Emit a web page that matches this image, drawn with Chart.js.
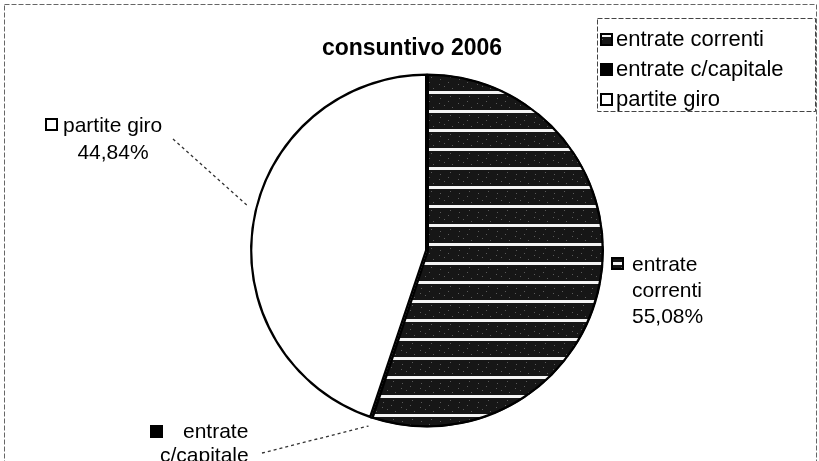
<!DOCTYPE html>
<html>
<head>
<meta charset="utf-8">
<script src="https://cdn.jsdelivr.net/npm/chart.js@4/dist/chart.umd.min.js"></script>
<style>
  html, body { margin: 0; padding: 0; background: #fff; }
  .chart-box { position: relative; width: 819px; height: 461px; }
</style>
</head>
<body>
<div class="chart-box">
  <canvas id="pie-chart" width="819" height="461"></canvas>
</div>
<script>
// Data - consuntivo 2006
const chartTitle = 'consuntivo 2006'
const categories = ['entrate correnti', 'entrate c/capitale', 'partite giro']
const percentages = [55.08, 0.08, 44.84]

const fontFamily = '"Liberation Sans", Arial, sans-serif'

// Striped fill for "entrate correnti"
const makeStripes = () => {
  const tile = document.createElement('canvas')
  tile.width = 19
  tile.height = 19
  const c = tile.getContext('2d')
  c.fillStyle = '#161616'
  c.fillRect(0, 0, 19, 19)
  c.fillStyle = '#f4f4f4'
  c.fillRect(0, 15, 19, 3)
  c.fillStyle = '#5a5a5a'
  ;[[3, 3], [11, 6], [7, 10], [15, 12], [2, 8], [13, 1]].forEach(([x, y]) => c.fillRect(x, y, 1, 1))
  return c.createPattern(tile, 'repeat')
}
const stripes = makeStripes()
const fills = [stripes, '#000000', '#ffffff']

const fmtPercent = (v) => v.toFixed(2).replace('.', ',') + '%'

// Labels around the pie (layout only)
const labelLayout = [
  { lines: ['entrate', 'correnti'], sym: [611, 257], text: [[632, 265], [632, 291], [632, 317]], align: 'left' },
  { lines: ['entrate', 'c/capitale'], sym: [150, 425], text: [[183, 432], [160, 456], [183, 480]], align: 'left', from: [262, 453] },
  { lines: ['partite giro'], sym: [45, 118], text: [[63, 126], [113, 153]], align: ['left', 'center'], from: [173, 139], edge: 284 }
]

const drawSymbol = (ctx, x, y, fill) => {
  ctx.fillStyle = fill
  ctx.fillRect(x, y, 13, 13)
  ctx.lineWidth = 2
  ctx.strokeStyle = '#000'
  ctx.strokeRect(x + 1, y + 1, 11, 11)
}

const decorations = {
  id: 'decorations',
  afterDraw: (chart) => {
    const ctx = chart.ctx
    const meta = chart.getDatasetMeta(0)
    ctx.save()

    // outer frame
    ctx.setLineDash([5, 2])
    ctx.strokeStyle = '#666'
    ctx.lineWidth = 1
    ctx.strokeRect(4.5, 4.5, 812, 500)

    // legend box
    ctx.strokeStyle = '#444'
    ctx.strokeRect(597.5, 18.5, 218, 93)
    ctx.setLineDash([])

    // title
    ctx.fillStyle = '#000'
    ctx.font = `bold 23px ${fontFamily}`
    ctx.textAlign = 'center'
    ctx.textBaseline = 'middle'
    ctx.fillText(chartTitle, 412, 49)

    // legend items
    ctx.font = `22px ${fontFamily}`
    ctx.textAlign = 'left'
    categories.forEach((name, i) => {
      const y = 40 + i * 30
      drawSymbol(ctx, 600, y - 7, fills[i])
      ctx.fillStyle = '#000'
      ctx.fillText(name, 616, y)
    })

    // data labels
    ctx.font = `21px ${fontFamily}`
    labelLayout.forEach((lab, i) => {
      const arc = meta.data[i]
      const lines = [...lab.lines, fmtPercent(percentages[i])]

      if (lab.from) {
        const p = arc.getProps(['x', 'y', 'startAngle', 'endAngle', 'outerRadius'], true)
        const ang = lab.edge !== undefined ? (lab.edge - 90) * Math.PI / 180 : (p.startAngle + p.endAngle) / 2
        const ex = p.x + Math.cos(ang) * (p.outerRadius + 8)
        const ey = p.y + Math.sin(ang) * (p.outerRadius + 8)
        ctx.strokeStyle = '#333'
        ctx.lineWidth = 1.3
        ctx.setLineDash([3, 3])
        ctx.beginPath()
        ctx.moveTo(lab.from[0], lab.from[1])
        ctx.lineTo(ex, ey)
        ctx.stroke()
        ctx.setLineDash([])
      }

      drawSymbol(ctx, lab.sym[0], lab.sym[1], fills[i])
      ctx.fillStyle = '#000'
      lines.forEach((line, j) => {
        ctx.textAlign = Array.isArray(lab.align) ? lab.align[j] : lab.align
        ctx.fillText(line, lab.text[j][0], lab.text[j][1])
      })
    })

    ctx.restore()
  }
}

const pieChart = document.querySelector('#pie-chart')
if (pieChart) {
  new Chart(pieChart, {
    type: 'pie',
    data: {
      labels: categories,
      datasets: [
        {
          data: percentages,
          backgroundColor: fills,
          borderColor: '#000',
          borderWidth: 2,
          borderAlign: 'inner'
        }
      ]
    },
    options: {
      responsive: false,
      animation: false,
      layout: {
        padding: { left: 250, right: 215, top: 72, bottom: 32 }
      },
      plugins: {
        legend: { display: false },
        tooltip: { enabled: false }
      }
    },
    plugins: [decorations]
  })
}
</script>
</body>
</html>
